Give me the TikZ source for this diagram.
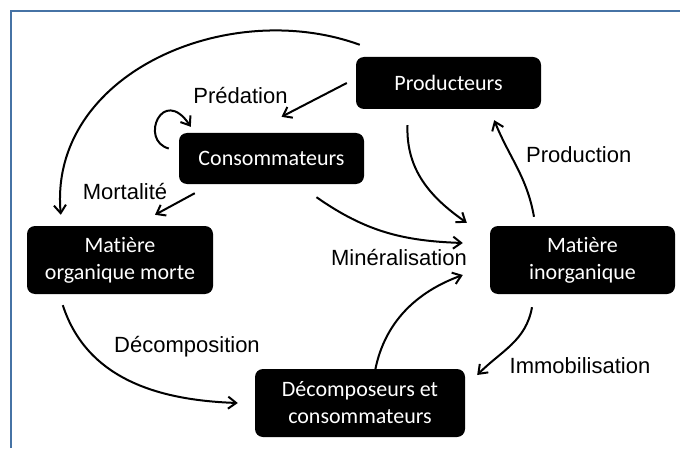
\documentclass[tikz,border=0pt]{standalone}
\usepackage{fontspec}
\setmainfont{Liberation Sans}
\newfontfamily\boxfont{Carlito}[Ligatures=NoCommon]
\usetikzlibrary{arrows.meta}
\definecolor{frameblue}{RGB}{70,115,165}

\begin{document}
\begin{tikzpicture}[x=1pt,y=1pt,
    box/.style={fill=black, text=white, rounded corners=8pt, align=center, inner sep=0pt,
        font=\boxfont\fontsize{22}{27}\selectfont},
    flow/.style={line width=2pt, -{Straight Barb[length=8pt,width=12pt]}},
    lbl/.style={inner sep=0pt, font=\fontsize{22}{26}\selectfont}]
    \useasboundingbox (0,0) rectangle (680,448);
    \draw[line width=2pt, frameblue] (11,0) -- (11,437) -- (680,437);

    \node[box, minimum width=185pt, minimum height=52pt] (prod) at (448.5,365) {Producteurs};
    \node[box, minimum width=185pt, minimum height=51pt] (cons) at (271.5,289.5) {Consommateurs};
    \node[box, minimum width=186pt, minimum height=68pt] (mom) at (120,188) {Matière\\organique morte};
    \node[box, minimum width=185pt, minimum height=68pt] (minorg) at (582.5,188) {Matière\\inorganique};
    \node[box, minimum width=210pt, minimum height=68pt] (decomp) at (360,45) {Décomposeurs et\\consommateurs};

    \node[lbl] (predation) at (240.5,352) {Prédation};
    \node[lbl] (mortalite) at (125,256) {Mortalité};
    \node[lbl] (production) at (578.7,293) {Production};
    \node[lbl] (mineral) at (399,190) {Minéralisation};
    \node[lbl] (decompo) at (187,101) {Décomposition};
    \node[lbl] (immob) at (580,82) {Immobilisation};

    \draw[flow] ([xshift=4pt,yshift=12pt]prod.north west) to[out=160,in=95,looseness=1.05] ([xshift=34pt,yshift=11pt]mom.north west);
    \draw[flow] ([xshift=-9pt]prod.west) -- ([xshift=10pt,yshift=16pt]cons.north);
    \draw[flow] ([xshift=-10pt,yshift=10pt]cons.west) .. controls +(-30,8) and +(-28,42) .. ([xshift=12pt,yshift=6pt]cons.north west);
    \draw[flow] ([xshift=16pt,yshift=-9pt]cons.south west) -- ([xshift=35pt,yshift=11pt]mom.north);
    \draw[flow] ([xshift=-41pt,yshift=-16pt]prod.south) to[out=-92,in=145] ([xshift=-23pt,yshift=3pt]minorg.north west);
    \draw[flow] ([xshift=45pt,yshift=-13pt]cons.south) to[out=-35,in=178] ([xshift=-27pt,yshift=17pt]minorg.west);
    \draw[flow] ([xshift=13pt,yshift=-17pt]decomp.north) to[out=85,in=200] ([xshift=-27pt,yshift=-15pt]minorg.west);
    \draw[flow] ([xshift=-48.5pt,yshift=9pt]minorg.north) to[out=100,in=-68] ([xshift=-47pt,yshift=-11pt]prod.south east);
    \draw[flow] ([xshift=36pt,yshift=-11pt]mom.south west) to[out=-72,in=178] ([xshift=-17pt,yshift=0pt]decomp.west);
    \draw[flow] ([xshift=-50.5pt,yshift=-13pt]minorg.south) to[out=-100,in=45] ([xshift=12pt,yshift=28pt]decomp.east);
\end{tikzpicture}
\end{document}
